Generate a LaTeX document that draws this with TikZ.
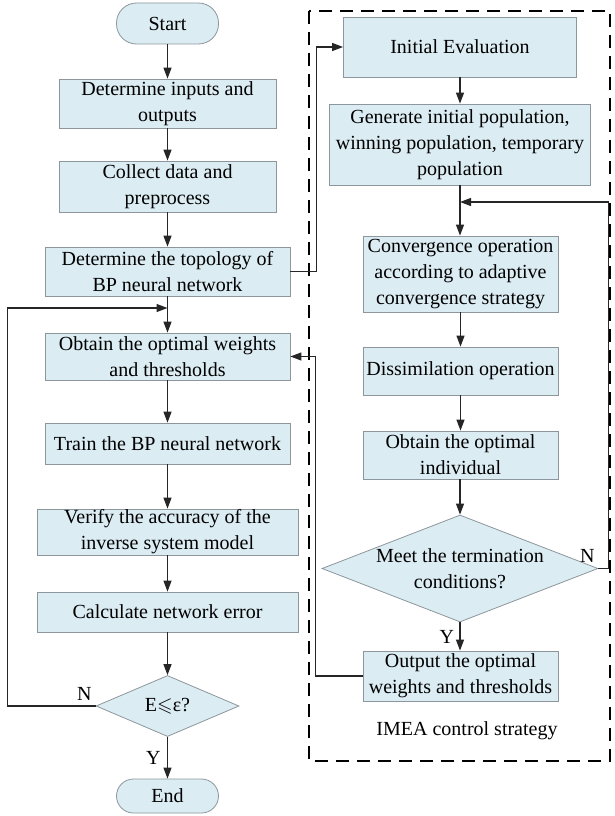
\documentclass[tikz,border=0pt]{standalone}
\usepackage{amssymb}
\usepackage{fontspec}
\setmainfont{Liberation Serif}
\usetikzlibrary{arrows.meta, positioning, shapes.geometric}
\definecolor{procfill}{RGB}{219,236,243}
\definecolor{procline}{RGB}{140,150,156}

\begin{document}
\begin{tikzpicture}[x=1pt, y=-1pt,
    font=\fontsize{20}{26}\selectfont,
    proc/.style={draw=procline, fill=procfill, align=center, inner sep=0pt, line width=0.8pt},
    decide/.style={proc, diamond},
    flow/.style={-{Triangle[length=11pt,width=8pt]}, line width=1.2pt, draw=black!85}]
    \useasboundingbox (0,0) rectangle (614,816);

    % dashed frame of the IMEA part
    \draw[dash pattern=on 13pt off 8pt, line width=2pt] (309,11) rectangle (610,761);
    \node (imea) at (467,731) {IMEA control strategy};

    % left column
    \node[proc, rounded corners=20pt, minimum width=102pt, minimum height=41pt] (st) at (167.5,23.5) {Start};
    \node[proc, minimum width=217pt, minimum height=49pt] (b1) at (167.5,103.5) {Determine inputs and\\outputs};
    \node[proc, minimum width=217pt, minimum height=51pt] (b2) at (167.5,186.5) {Collect data and\\preprocess};
    \node[proc, minimum width=245pt, minimum height=49pt] (b3) at (167.5,271.5) {Determine the topology of\\BP neural network};
    \node[proc, minimum width=245pt, minimum height=47pt] (b4) at (167.5,356.5) {Obtain the optimal weights\\and thresholds};
    \node[proc, minimum width=245pt, minimum height=41pt] (b5) at (167.5,443.5) {Train the BP neural network};
    \node[proc, minimum width=261pt, minimum height=46pt] (b6) at (167.5,532) {Verify the accuracy of the\\inverse system model};
    \node[proc, minimum width=261pt, minimum height=40pt] (b7) at (167.5,612) {Calculate network error};
    \node[decide, minimum width=143pt, minimum height=61pt] (dE) at (167.5,706) {E$\leqslant$ε?};
    \node[proc, rounded corners=17pt, minimum width=102pt, minimum height=34pt] (en) at (167.5,796) {End};
    \coordinate (lmerge) at (167.5,308);

    % right column
    \node[proc, minimum width=233pt, minimum height=60pt] (ie) at (460,47) {Initial Evaluation};
    \node[proc, minimum width=261pt, minimum height=81pt] (gen) at (460,144.5) {Generate initial population,\\winning population, temporary\\population};
    \node[proc, minimum width=195pt, minimum height=76pt] (conv) at (460.5,274) {Convergence operation\\according to adaptive\\convergence strategy};
    \node[proc, minimum width=195pt, minimum height=48pt] (diss) at (460.5,371) {Dissimilation operation};
    \node[proc, minimum width=195pt, minimum height=48pt] (ind) at (460.5,455) {Obtain the optimal\\individual};
    \node[decide, minimum width=276pt, minimum height=107pt,
          label={[align=center]center:{Meet the termination\\conditions?}}] (dT) at (460,568.5) {};
    \node[proc, minimum width=195pt, minimum height=50pt] (out) at (460.5,676) {Output the optimal\\weights and thresholds};
    \coordinate (rmerge) at (460,202);

    \draw[flow] (st) -- (b1);
    \draw[flow] (b1) -- (b2);
    \draw[flow] (b2) -- (b3);
    \draw[flow] (b3) -- (b4);
    \draw[flow] (b4) -- (b5);
    \draw[flow] (b5) -- (b6);
    \draw[flow] (b6) -- (b7);
    \draw[flow] (b7) -- (dE);
    \draw[flow] (dE) -- node[left=3pt] (yL) {Y} (en);
    \draw[flow] (dE.west) node[above left=2pt and 0pt] (nL) {N} -- ++(-88,0) |- (lmerge);

    \draw[flow] (b3.east) -- ++(26,0) |- (ie.west);
    \draw[flow] (ie) -- (gen);
    \draw[flow] (gen.south -| rmerge) -- (conv.north -| rmerge);
    \draw[flow] (conv) -- (diss);
    \draw[flow] (diss) -- (ind);
    \draw[flow] (ind.south -| dT) -- (dT);
    \draw[flow] (dT) -- node[left=2pt] (yR) {Y} (dT.south |- out.north);
    \draw[flow] (dT.east) node[above left=2pt and 0pt] (nR) {N} -- ++(10,0) |- (rmerge);
    \draw[flow] (out.west) -- ++(-47,0) |- (b4.east);
\end{tikzpicture}
\end{document}
